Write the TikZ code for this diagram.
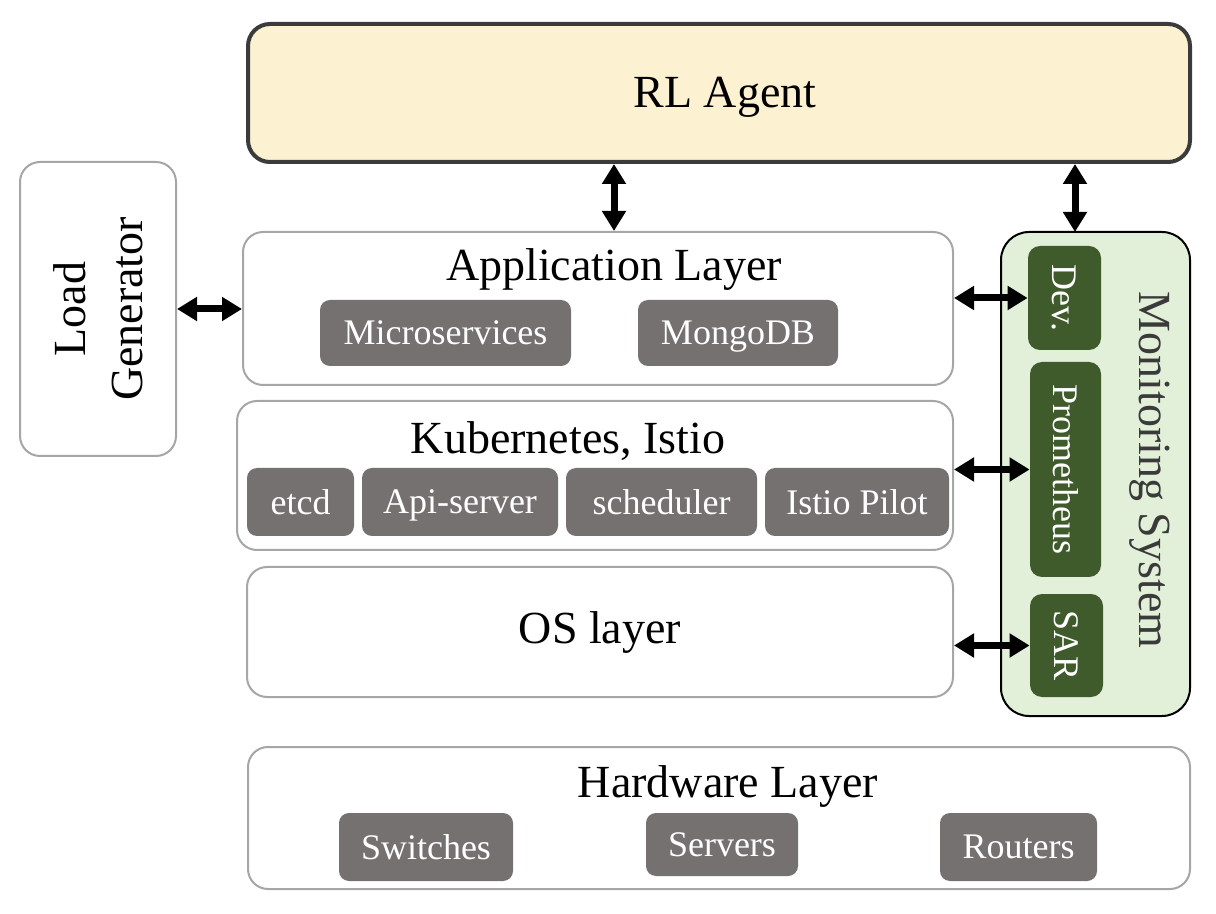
\documentclass[tikz,border=0pt]{standalone}
\usepackage{fontspec}
\setmainfont{Liberation Serif}
\usetikzlibrary{positioning,arrows.meta}
\definecolor{agentfill}{HTML}{FCF2D2}
\definecolor{agentline}{HTML}{3B3B3B}
\definecolor{layerline}{HTML}{A6A6A6}
\definecolor{compfill}{HTML}{767171}
\definecolor{monfill}{HTML}{E2EFD9}
\definecolor{monbox}{HTML}{3F5A2B}
\definecolor{montext}{HTML}{3A3A3A}
\tikzset{%
  twoway/.style = {{Triangle[width=11.5pt,length=10pt]}-{Triangle[width=11.5pt,length=10pt]},
        line width=3.5pt},
  layer/.style = {rectangle,draw=layerline,line width=1pt,
        rounded corners=10pt,fill=white,inner sep=0pt},
  comp/.style = {rectangle,fill=compfill,text=white,rounded corners=5pt,
        inner sep=0pt,text depth=0pt,font=\fontsize{18}{20}\selectfont},
  mbox/.style = {rectangle,fill=monbox,rounded corners=6pt,inner sep=0pt},
  mlabel/.style = {rotate=-90,text=white,font=\fontsize{18}{20}\selectfont},
  title/.style = {font=\fontsize{23}{28.5}\selectfont}
}

\begin{document}
\begin{tikzpicture}[x=0.5pt,y=-0.5pt]
\useasboundingbox (0,0) rectangle (1216,914);

% agent
\node[rectangle,draw=agentline,line width=2pt,fill=agentfill,rounded corners=11pt,
      minimum width=471pt,minimum height=69pt] (agent) at (719,93) {};
\node[title] (agenttext) at (725,97) {RL Agent};

% load generator
\node[layer,minimum width=78pt,minimum height=147pt] (load) at (98,309) {};
\node[title,rotate=90,align=center] (loadtext) at (load) {Load\\Generator};

% application layer
\node[layer,minimum width=355pt,minimum height=76.5pt] (app) at (598,308.5) {};
\node[title] (apptitle) at (614,270) {Application Layer};
\node[comp,minimum width=125.5pt,minimum height=33pt] (micro) at (445.5,333) {Microservices};
\node[comp,minimum width=100pt,minimum height=33pt] (mongo) at (738,333) {MongoDB};

% kubernetes
\node[layer,minimum width=358pt,minimum height=74.5pt] (kube) at (595,475.5) {};
\node[title] (kubetitle) at (568,441) {Kubernetes, Istio};
\node[comp,minimum width=53.5pt,minimum height=34pt] (etcd) at (300.5,502) {etcd};
\node[comp,minimum width=98pt,minimum height=34pt] (api) at (460,502) {Api-server};
\node[comp,minimum width=95.5pt,minimum height=34pt] (sched) at (661.5,502) {scheduler};
\node[comp,minimum width=92pt,minimum height=34pt] (pilot) at (857,502) {Istio Pilot};

% os
\node[layer,minimum width=353pt,minimum height=65pt] (os) at (600,632) {};
\node[title] (ostitle) at (600,633) {OS layer};

% monitoring
\node[rectangle,draw=black,line width=1pt,fill=monfill,rounded corners=14pt,
      minimum width=94.5pt,minimum height=242pt] (mon) at (1095.5,474) {};
\node[title,rotate=-90,text=montext] (montitle) at (1150,470) {Monitoring System};
\node[mbox,minimum width=36.5pt,minimum height=52pt] (dev) at (1064.5,298) {};
\node[mlabel] at (dev) {Dev.};
\node[mbox,minimum width=35.5pt,minimum height=107.5pt] (prom) at (1065.5,469.5) {};
\node[mlabel] at (prom) {Prometheus};
\node[mbox,minimum width=36.5pt,minimum height=51.5pt] (sar) at (1066.5,645.5) {};
\node[mlabel] at (sar) {SAR};
\coordinate (montop) at (1075,232);

% hardware
\node[layer,minimum width=471pt,minimum height=71pt] (hw) at (719,818) {};
\node[title] (hwtitle) at (728,787) {Hardware Layer};
\node[comp,minimum width=87pt,minimum height=34pt] (switch) at (426,847) {Switches};
\node[comp,minimum width=76pt,minimum height=31.5pt] (server) at (722,844.5) {Servers};
\node[comp,minimum width=78.5pt,minimum height=34pt] (router) at (1018.5,847) {Routers};

% arrows
\draw[twoway] (apptitle |- agent.south) -- (apptitle |- app.north);
\draw[twoway] (montop |- agent.south) -- (montop);
\draw[twoway] (load.east) -- (load.east -| app.west);
\draw[twoway] (app.east |- dev) -- (dev.west);
\draw[twoway] (kube.east |- prom) -- (prom.west);
\draw[twoway] (os.east |- sar) -- (sar.west);
\end{tikzpicture}
\end{document}
